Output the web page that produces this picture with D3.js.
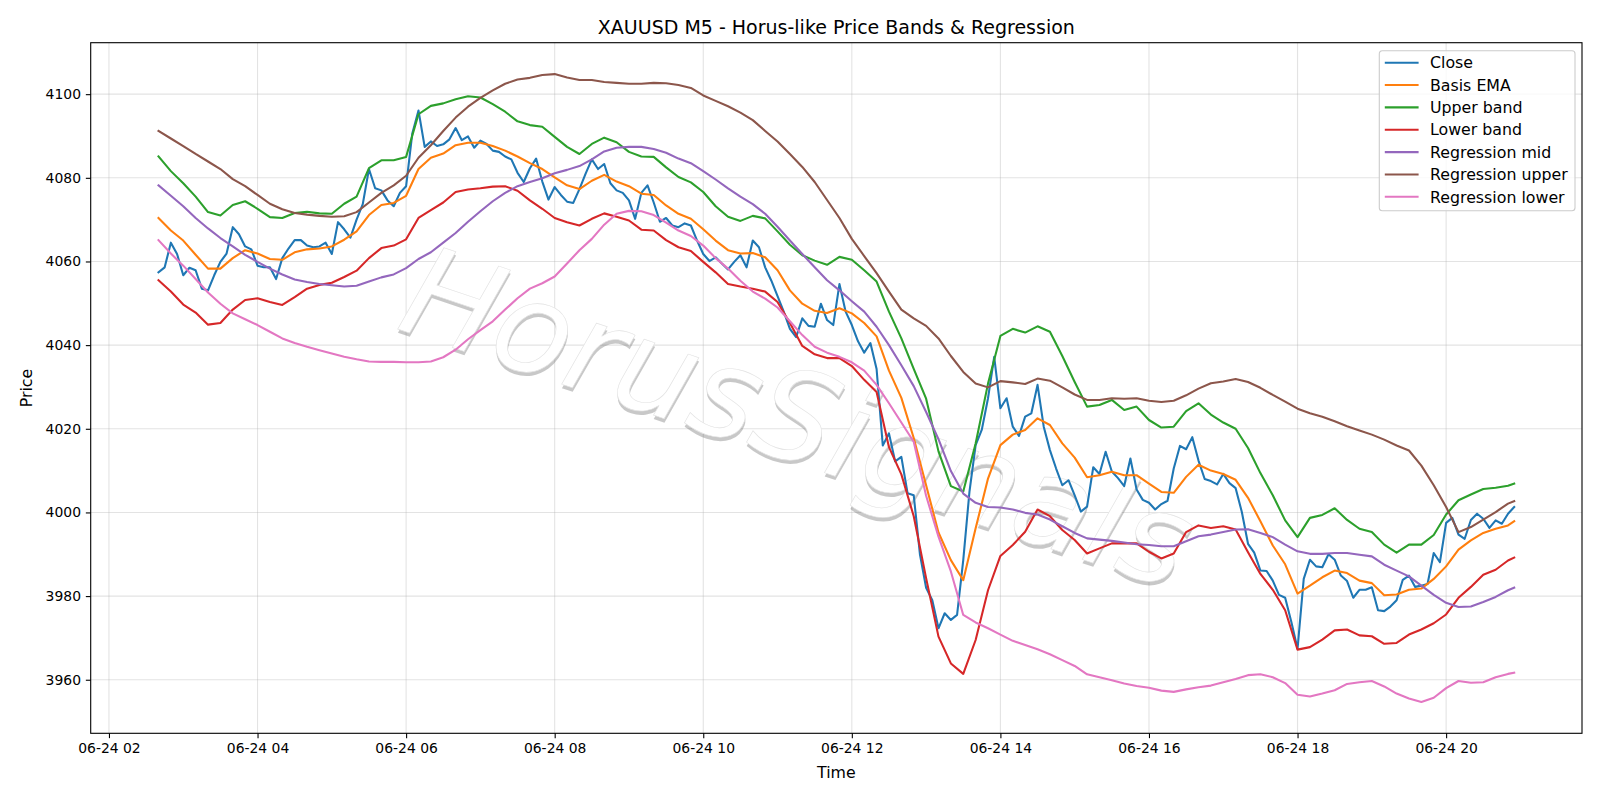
<!DOCTYPE html>
<html>
<head>
<meta charset="utf-8">
<script src="https://cdn.jsdelivr.net/npm/d3@7"></script>
<style>
  body { margin: 0; background: #fff; }
  text { font-family: "DejaVu Sans", sans-serif; }
</style>
</head>
<body>
<div id="chart"></div>
<script>
// Close prices, one every 5 minutes from 06-24 02:40 to 20:55
var closePrices = [
  4057.4, 4058.6, 4064.5, 4061.8, 4056.7, 4058.5, 4057.9, 4053.5, 4053.1, 4056.7,
  4059.9, 4061.9, 4068.2, 4066.5, 4063.6, 4062.9, 4059.0, 4058.6, 4058.6, 4055.8,
  4060.8, 4063.1, 4065.1, 4065.1, 4063.8, 4063.4, 4063.6, 4064.5, 4061.8, 4069.4,
  4067.7, 4065.7, 4070.0, 4073.7, 4082.1, 4077.5, 4077.0, 4074.6, 4073.2, 4076.4,
  4078.0, 4090.6, 4096.1, 4087.4, 4088.7, 4087.6, 4088.0, 4089.2, 4091.9, 4089.0,
  4089.9, 4087.2, 4088.9, 4088.1, 4086.5, 4086.2, 4085.1, 4084.4, 4081.2, 4079.0,
  4082.3, 4084.6, 4079.1, 4074.8, 4077.8, 4075.9, 4074.3, 4074.0, 4077.3, 4081.0,
  4084.4, 4082.1, 4083.3, 4078.7, 4077.0, 4076.4, 4074.6, 4070.2, 4076.4, 4078.2,
  4074.1, 4069.5, 4070.4, 4068.6, 4068.2, 4069.1, 4068.6, 4065.0, 4061.8, 4060.1,
  4061.0, 4059.5, 4058.1, 4059.9, 4061.5, 4058.6, 4065.0, 4063.4, 4058.6, 4055.4,
  4051.7, 4048.0, 4043.9, 4041.9, 4046.4, 4044.6, 4044.4, 4049.9, 4046.0, 4044.8,
  4054.6, 4048.0, 4044.8, 4040.9, 4038.2, 4040.5, 4034.3, 4016.0, 4018.9, 4012.2,
  4013.3, 4004.6, 4004.1, 3990.0, 3982.0, 3979.0, 3972.3, 3975.9, 3974.3, 3975.5,
  3988.6, 4004.9, 4016.1, 4019.8, 4027.3, 4037.2, 4024.9, 4027.3, 4020.5, 4018.3,
  4022.9, 4023.7, 4030.5, 4020.5, 4014.9, 4010.5, 4006.5, 4007.7, 4004.1, 4000.2,
  4001.4, 4010.8, 4009.2, 4014.5, 4009.8, 4008.2, 4006.3, 4012.9, 4005.5, 4003.0,
  4002.3, 4000.7, 4002.0, 4002.8, 4010.5, 4015.9, 4015.1, 4018.0, 4012.4, 4008.0,
  4007.5, 4006.7, 4009.2, 4007.0, 4005.8, 4000.1, 3992.5, 3990.4, 3986.1, 3986.0,
  3983.7, 3980.3, 3979.6, 3973.8, 3967.4, 3984.1, 3988.7, 3987.1, 3986.9, 3990.0,
  3988.7, 3984.9, 3983.6, 3979.6, 3981.5, 3981.5, 3982.1, 3976.6, 3976.4, 3977.5,
  3979.0, 3983.9, 3984.9, 3982.2, 3982.5, 3982.9, 3990.3, 3988.1, 3997.5, 3998.7,
  3994.7, 3993.7, 3998.2, 3999.7, 3998.5, 3996.3, 3998.1, 3997.3, 3999.7, 4001.3
];

// Smooth series, read every 10 minutes (02:40 ... 20:50) plus the last bar at 20:55
var basisEma = [
  4070.4, 4067.4, 4065.0, 4061.6, 4058.3, 4058.3, 4060.8, 4062.7, 4061.9, 4060.6,
  4060.4, 4062.2, 4062.9, 4063.1, 4063.6, 4065.2, 4067.2, 4071.1, 4073.5, 4074.0,
  4075.7, 4082.1, 4084.8, 4085.8, 4087.8, 4088.4, 4088.4, 4087.6, 4086.5, 4085.1,
  4083.5, 4082.1, 4080.1, 4078.2, 4077.3, 4079.3, 4080.7, 4079.1, 4078.0, 4076.2,
  4075.9, 4073.4, 4071.4, 4070.2, 4067.7, 4065.0, 4062.7, 4061.9, 4062.0, 4061.0,
  4057.9, 4053.1, 4049.9, 4048.2, 4047.7, 4048.8, 4047.6, 4045.3, 4042.1, 4033.9,
  4027.4, 4017.8, 4006.5, 3995.2, 3988.6, 3983.8, 3996.2, 4008.1, 4016.1, 4018.6,
  4019.7, 4022.5, 4020.9, 4016.5, 4013.1, 4008.4, 4008.9, 4009.7, 4008.9, 4008.9,
  4006.9, 4004.9, 4004.7, 4008.5, 4011.4, 4010.0, 4009.2, 4007.8, 4003.5, 3997.9,
  3992.1, 3987.6, 3980.6, 3982.5, 3984.5, 3986.1, 3985.5, 3983.7, 3983.1, 3980.2,
  3980.4, 3981.5, 3981.8, 3984.1, 3987.1, 3991.1, 3993.3, 3995.1, 3996.1, 3996.9,
  3997.9
];

var upperBand = [
  4085.1, 4081.6, 4078.7, 4075.5, 4071.8, 4071.0, 4073.5, 4074.4, 4072.6, 4070.6,
  4070.4, 4071.6, 4071.9, 4071.5, 4071.4, 4073.8, 4075.5, 4082.3, 4084.2, 4084.2,
  4085.0, 4095.2, 4097.2, 4097.8, 4098.8, 4099.5, 4099.2, 4097.6, 4095.8, 4093.5,
  4092.6, 4092.2, 4089.8, 4087.4, 4085.7, 4088.1, 4089.6, 4088.5, 4086.2, 4085.1,
  4085.0, 4082.5, 4080.2, 4078.9, 4076.6, 4073.2, 4070.7, 4069.7, 4070.9, 4070.3,
  4067.2, 4064.0, 4061.5, 4060.2, 4059.2, 4061.1, 4060.4, 4057.9, 4055.2, 4048.0,
  4041.6, 4034.3, 4027.2, 4014.6, 4006.3, 4005.0, 4016.5, 4030.8, 4042.2, 4043.9,
  4043.0, 4044.5, 4043.2, 4037.4, 4031.2, 4025.3, 4025.7, 4026.9, 4024.5, 4025.3,
  4022.1, 4020.3, 4020.5, 4024.2, 4026.1, 4023.4, 4021.5, 4020.0, 4015.4, 4009.4,
  4004.1, 3998.1, 3994.1, 3998.7, 3999.4, 4001.0, 3998.2, 3996.1, 3995.3, 3992.3,
  3990.4, 3992.3, 3992.3, 3994.6, 3999.5, 4002.9, 4004.3, 4005.6, 4005.9, 4006.4,
  4006.9
];

var lowerBand = [
  4055.5, 4052.8, 4049.7, 4047.8, 4044.9, 4045.3, 4048.5, 4050.8, 4051.2, 4050.3,
  4049.6, 4051.5, 4053.5, 4054.4, 4054.9, 4056.3, 4057.8, 4060.8, 4063.2, 4063.8,
  4065.3, 4070.4, 4072.3, 4074.1, 4076.6, 4077.2, 4077.5, 4077.9, 4078.0, 4076.9,
  4074.6, 4072.6, 4070.4, 4069.4, 4068.6, 4070.2, 4071.5, 4070.7, 4069.8, 4067.6,
  4067.4, 4065.1, 4063.4, 4062.5, 4059.9, 4057.4, 4054.6, 4054.0, 4053.5, 4052.8,
  4050.3, 4045.3, 4039.8, 4037.8, 4036.9, 4036.9, 4035.0, 4031.7, 4028.8, 4015.6,
  4009.1, 3999.1, 3984.3, 3970.3, 3963.9, 3961.4, 3969.5, 3981.4, 3989.6, 3992.2,
  3995.4, 4000.7, 3999.1, 3995.8, 3993.4, 3990.2, 3991.4, 3992.6, 3992.6, 3992.6,
  3990.6, 3989.0, 3990.2, 3995.3, 3996.9, 3996.3, 3996.7, 3995.9, 3990.5, 3985.3,
  3981.5, 3976.6, 3967.2, 3967.8, 3969.6, 3971.8, 3972.0, 3970.6, 3970.4, 3968.6,
  3968.8, 3970.8, 3972.0, 3973.5, 3975.6, 3979.6, 3982.2, 3985.1, 3986.3, 3988.5,
  3989.2
];

var regMid = [
  4078.2, 4075.7, 4073.2, 4070.4, 4067.9, 4065.6, 4063.6, 4061.6, 4059.9, 4058.3,
  4056.9, 4055.7, 4055.1, 4054.6, 4054.3, 4054.0, 4054.2, 4055.2, 4056.2, 4056.9,
  4058.4, 4060.6, 4062.2, 4064.5, 4066.8, 4069.5, 4072.0, 4074.4, 4076.4, 4078.0,
  4079.0, 4079.9, 4081.1, 4081.9, 4082.8, 4084.4, 4086.3, 4087.2, 4087.4, 4087.4,
  4086.9, 4086.0, 4084.6, 4083.5, 4081.6, 4079.6, 4077.5, 4075.5, 4073.7, 4071.4,
  4068.3, 4065.0, 4061.8, 4058.6, 4055.5, 4053.1, 4050.5, 4048.0, 4044.4, 4040.0,
  4035.2, 4030.2, 4024.0, 4017.5, 4009.9, 4004.5, 4002.3, 4001.3, 4001.2, 4000.7,
  3999.9, 3999.5, 3998.3, 3996.7, 3995.1, 3993.8, 3993.5, 3993.2, 3992.8, 3992.4,
  3992.2, 3991.9, 3991.9, 3993.1, 3994.3, 3994.7, 3995.3, 3995.9, 3996.0, 3995.1,
  3994.1, 3992.3, 3990.7, 3990.1, 3990.1, 3990.3, 3990.3, 3989.9, 3989.5, 3987.5,
  3986.1, 3984.7, 3982.5, 3980.3, 3978.4, 3977.4, 3977.5, 3978.6, 3979.8, 3981.4,
  3982.0
];

var regUpper = [
  4091.2, 4089.4, 4087.6, 4085.7, 4083.9, 4082.1, 4079.7, 4078.0, 4075.9, 4073.8,
  4072.5, 4071.6, 4071.2, 4070.9, 4070.7, 4070.8, 4071.8, 4074.1, 4076.4, 4078.2,
  4080.5, 4084.8, 4087.8, 4091.2, 4094.4, 4097.0, 4099.1, 4100.9, 4102.5, 4103.5,
  4103.9, 4104.6, 4104.8, 4104.0, 4103.4, 4103.4, 4102.9, 4102.7, 4102.5, 4102.5,
  4102.7, 4102.6, 4102.2, 4101.5, 4099.7, 4098.4, 4097.1, 4095.6, 4093.8, 4091.2,
  4088.7, 4085.7, 4082.6, 4079.0, 4074.7, 4070.4, 4065.4, 4061.3, 4057.2, 4052.8,
  4048.5, 4046.4, 4044.6, 4041.6, 4037.4, 4033.6, 4030.8, 4029.9, 4031.4, 4031.1,
  4030.7, 4032.0, 4031.5, 4029.9, 4028.2, 4026.9, 4026.9, 4027.3, 4027.2, 4027.3,
  4026.7, 4026.4, 4026.7, 4028.0, 4029.6, 4030.9, 4031.3, 4031.9, 4031.2, 4029.8,
  4028.1, 4026.5, 4024.8, 4023.7, 4022.9, 4021.8, 4020.6, 4019.6, 4018.6, 4017.4,
  4016.0, 4014.8, 4011.2, 4006.5, 4001.3, 3995.3, 3996.5, 3998.3, 4000.1, 4002.1,
  4002.7
];

var regLower = [
  4065.1, 4061.9, 4059.0, 4055.8, 4052.6, 4049.9, 4047.6, 4046.2, 4044.8, 4043.2,
  4041.6, 4040.5, 4039.6, 4038.8, 4038.0, 4037.2, 4036.6, 4036.1, 4036.0, 4036.0,
  4035.9, 4035.9, 4036.1, 4037.1, 4038.9, 4041.4, 4043.6, 4045.7, 4048.5, 4051.2,
  4053.5, 4054.8, 4056.4, 4059.5, 4062.7, 4065.4, 4068.8, 4071.4, 4072.1, 4072.0,
  4071.1, 4069.3, 4067.4, 4066.1, 4063.8, 4060.8, 4058.3, 4055.4, 4052.8, 4051.1,
  4049.0, 4045.7, 4042.4, 4039.6, 4038.2, 4037.2, 4035.9, 4033.9, 4030.5, 4026.1,
  4021.5, 4016.9, 4004.0, 3994.2, 3985.9, 3975.5, 3973.7, 3972.3, 3970.8, 3969.3,
  3968.3, 3967.3, 3966.1, 3964.7, 3963.3, 3961.3, 3960.6, 3959.9, 3959.1, 3958.5,
  3958.1, 3957.4, 3957.1, 3957.7, 3958.2, 3958.6, 3959.4, 3960.2, 3961.1, 3961.3,
  3960.6, 3959.2, 3956.4, 3956.0, 3956.7, 3957.5, 3959.0, 3959.4, 3959.7, 3958.4,
  3956.7, 3955.5, 3954.7, 3955.7, 3958.0, 3959.7, 3959.3, 3959.4, 3960.6, 3961.4,
  3961.7
];

var seriesNames = ["Close", "Basis EMA", "Upper band", "Lower band",
                   "Regression mid", "Regression upper", "Regression lower"];
var seriesColors = ["#1f77b4", "#ff7f0e", "#2ca02c", "#d62728",
                    "#9467bd", "#8c564b", "#e377c2"];
var yTickValues = [3960, 3980, 4000, 4020, 4040, 4060, 4080, 4100];

// time axis: 5 minute bars, smooth series on every other bar plus the last one
var startTime = new Date(2025, 5, 24, 2, 40);
var closeTimes = closePrices.map((d, i) => new Date(+startTime + i * 5 * 60000));
var smoothIdx = d3.range(0, closePrices.length - 1, 2).concat([closePrices.length - 1]);
var smoothTimes = smoothIdx.map(i => closeTimes[i]);

var series = [
  { values: closePrices, times: closeTimes },
  { values: basisEma, times: smoothTimes },
  { values: upperBand, times: smoothTimes },
  { values: lowerBand, times: smoothTimes },
  { values: regMid, times: smoothTimes },
  { values: regUpper, times: smoothTimes },
  { values: regLower, times: smoothTimes }
];

var svgWidth = 1600, svgHeight = 800;
var plot = { left: 90.7, right: 1582, top: 42.7, bottom: 733.3 };

var svg = d3.select("#chart").append("svg")
    .attr("width", svgWidth)
    .attr("height", svgHeight);

// matplotlib style 5% margins
var t0 = +closeTimes[0], t1 = +closeTimes[closeTimes.length - 1];
var tPad = (t1 - t0) * 0.05;
var allValues = d3.merge(series.map(s => s.values));
var vMin = d3.min(allValues), vMax = d3.max(allValues);
var vPad = (vMax - vMin) * 0.05;

var x = d3.scaleTime().domain([new Date(t0 - tPad), new Date(t1 + tPad)]).range([plot.left, plot.right]);
var y = d3.scaleLinear().domain([vMin - vPad, vMax + vPad]).range([plot.bottom, plot.top]);

var xTicks = x.ticks(d3.timeHour.every(2));

// grid
var grid = svg.append("g").attr("stroke", "#b0b0b0").attr("stroke-opacity", 0.35).attr("stroke-width", 1.1);
grid.selectAll(".gx").data(xTicks).enter().append("line")
    .attr("x1", d => x(d)).attr("x2", d => x(d))
    .attr("y1", plot.top).attr("y2", plot.bottom);
grid.selectAll(".gy").data(yTickValues).enter().append("line")
    .attr("x1", plot.left).attr("x2", plot.right)
    .attr("y1", d => y(d)).attr("y2", d => y(d));

// watermark: white text with a soft grey drop shadow
var wm = svg.append("g").attr("transform", "translate(784,459) rotate(18.6)");
wm.append("text")
    .attr("x", 1.5).attr("y", 3.6)
    .attr("text-anchor", "middle")
    .attr("font-size", "126px")
    .attr("font-style", "oblique")
    .attr("fill", "#4d4d4d")
    .attr("opacity", 0.3)
    .text("HorusSignals");
wm.append("text")
    .attr("text-anchor", "middle")
    .attr("font-size", "126px")
    .attr("font-style", "oblique")
    .attr("fill", "#ffffff")
    .attr("stroke", "#e2e2e2")
    .attr("stroke-width", 0.6)
    .text("HorusSignals");

// lines
svg.append("clipPath").attr("id", "plotclip").append("rect")
    .attr("x", plot.left).attr("y", plot.top)
    .attr("width", plot.right - plot.left).attr("height", plot.bottom - plot.top);

var linesG = svg.append("g").attr("clip-path", "url(#plotclip)");
series.forEach(function(s, i) {
  var line = d3.line()
      .x((d, j) => x(s.times[j]))
      .y(d => y(d));
  linesG.append("path")
      .datum(s.values)
      .attr("d", line)
      .attr("fill", "none")
      .attr("stroke", seriesColors[i])
      .attr("stroke-width", 2.08)
      .attr("stroke-linejoin", "round")
      .attr("stroke-linecap", "square");
});

// axes
var bottomAxis = d3.axisBottom(x)
    .tickValues(xTicks)
    .tickFormat(d3.timeFormat("%m-%d %H"))
    .tickSize(4.86)
    .tickPadding(4.5);
var leftAxis = d3.axisLeft(y)
    .tickValues(yTickValues)
    .tickFormat(d3.format("d"))
    .tickSize(4.86)
    .tickPadding(4.86);

var xAxisG = svg.append("g")
    .attr("transform", `translate(0, ${plot.bottom})`)
    .call(bottomAxis);
var yAxisG = svg.append("g")
    .attr("transform", `translate(${plot.left}, 0)`)
    .call(leftAxis);

[xAxisG, yAxisG].forEach(function(g) {
  g.select(".domain").remove();
  g.selectAll(".tick line").attr("stroke", "#000").attr("stroke-width", 1.1);
  g.selectAll(".tick text")
      .attr("fill", "#000")
      .style("font-family", "'DejaVu Sans', sans-serif")
      .style("font-size", "13.9px");
});

// frame
svg.append("rect")
    .attr("x", plot.left).attr("y", plot.top)
    .attr("width", plot.right - plot.left).attr("height", plot.bottom - plot.top)
    .attr("fill", "none").attr("stroke", "#000").attr("stroke-width", 1.1);

// titles
svg.append("text")
    .attr("x", (plot.left + plot.right) / 2).attr("y", 33.8)
    .attr("text-anchor", "middle")
    .attr("font-size", "19px")
    .text("XAUUSD M5 - Horus-like Price Bands & Regression");

svg.append("text")
    .attr("x", (plot.left + plot.right) / 2).attr("y", 777.5)
    .attr("text-anchor", "middle")
    .attr("font-size", "15.8px")
    .text("Time");

svg.append("text")
    .attr("transform", `translate(32, ${(plot.top + plot.bottom) / 2}) rotate(-90)`)
    .attr("text-anchor", "middle")
    .attr("font-size", "15.8px")
    .text("Price");

// legend
var legend = svg.append("g").attr("transform", "translate(1379.3, 50.7)");
legend.append("rect")
    .attr("width", 195.7).attr("height", 160)
    .attr("rx", 3).attr("ry", 3)
    .attr("fill", "#fff").attr("fill-opacity", 0.8)
    .attr("stroke", "#cccccc").attr("stroke-width", 1.1);

var items = legend.selectAll(".item").data(seriesNames).enter().append("g")
    .attr("transform", (d, i) => `translate(0, ${12 + i * 22.35})`);
items.append("line")
    .attr("x1", 5.5).attr("x2", 39.3)
    .attr("stroke", (d, i) => seriesColors[i])
    .attr("stroke-width", 2.08);
items.append("text")
    .attr("x", 50.7).attr("dy", "0.36em")
    .attr("font-size", "15.8px")
    .text(d => d);
</script>
</body>
</html>
